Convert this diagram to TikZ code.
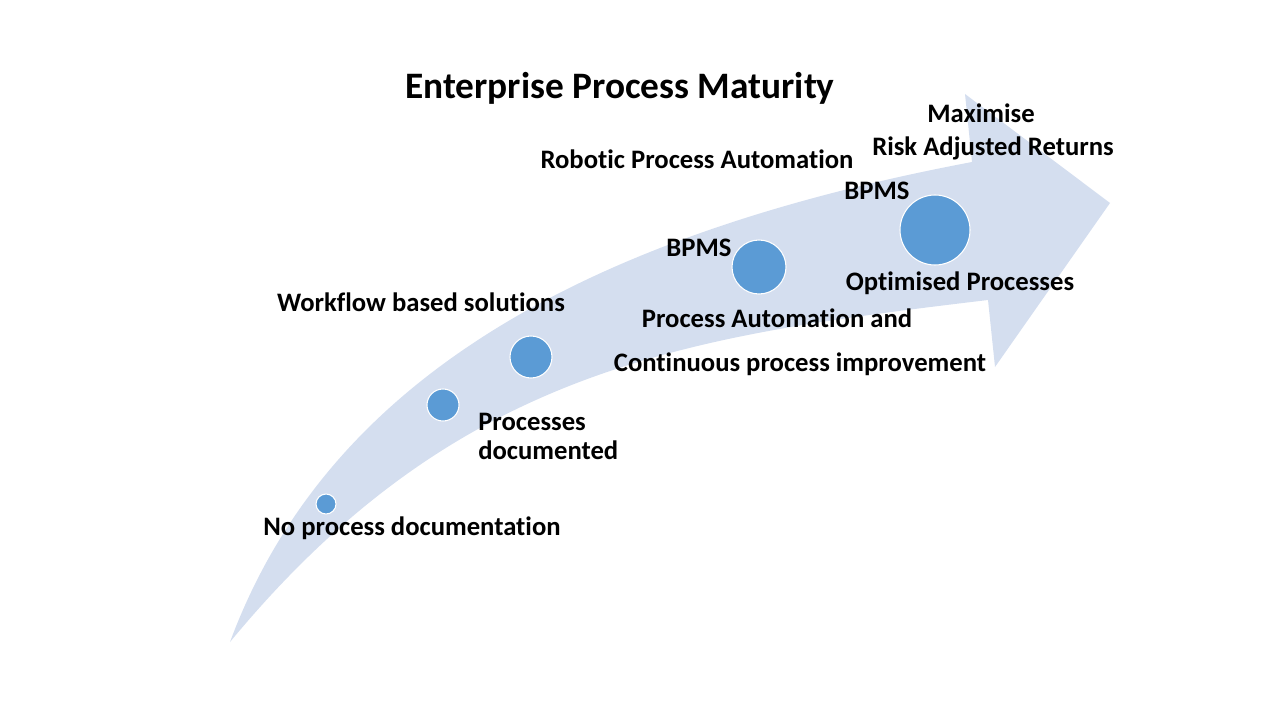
\documentclass[tikz,border=0pt]{standalone}
\usepackage{fontspec}
\setmainfont[Ligatures=NoCommon]{Carlito}
\definecolor{bandblue}{RGB}{212,222,239}
\definecolor{dotblue}{RGB}{91,155,213}
\tikzset{
  dot/.style={circle,fill=dotblue,draw=white,line width=0.8pt,inner sep=0pt},
  lbl/.style={anchor=base,font=\fontsize{20}{26}\selectfont\bfseries,inner sep=0pt},
  ttl/.style={anchor=base,font=\fontsize{28}{34}\selectfont\bfseries,inner sep=0pt}
}
\begin{document}
\begin{tikzpicture}[x=0.75pt,y=-0.75pt]
  \useasboundingbox (0,0) rectangle (1280,720);
  % curved band with head
  \fill[bandblue] (230,642) .. controls (322,394) and (559,240) .. (972,162)
    -- (965,94) -- (1110,203) -- (995,367) -- (988,300)
    .. controls (688,336) and (458,366) .. (230,642) -- cycle;
  % steps
  \node[dot,minimum size=20pt*0.75] (s1) at (326,504) {};
  \node[dot,minimum size=32pt*0.75] (s2) at (443,405) {};
  \node[dot,minimum size=42pt*0.75] (s3) at (531,357) {};
  \node[dot,minimum size=54pt*0.75] (s4) at (759,267) {};
  \node[dot,minimum size=70pt*0.75] (s5) at (935,230) {};
  % labels
  \node[ttl] (title) at (620,99) {Enterprise Process Maturity};
  \node[lbl] (maxa) at (981,123) {Maximise};
  \node[lbl] (maxb) at (993,156) {Risk Adjusted Returns};
  \node[lbl] (rpa) at (697,169) {Robotic Process Automation};
  \node[lbl] (bpmsb) at (877,200) {BPMS};
  \node[lbl] (bpmsa) at (699,256) {BPMS};
  \node[lbl] (opt) at (960,290) {Optimised Processes};
  \node[lbl] (wf) at (421,311) {Workflow based solutions};
  \node[lbl] (paut) at (777,327) {Process Automation and};
  \node[lbl] (cpi) at (800,371) {Continuous process improvement};
  \node[lbl,anchor=base west] (pda) at (478,430) {Processes};
  \node[lbl,anchor=base west] (pdb) at (478,459) {documented};
  \node[lbl] (npd) at (412,535) {No process documentation};
\end{tikzpicture}
\end{document}
